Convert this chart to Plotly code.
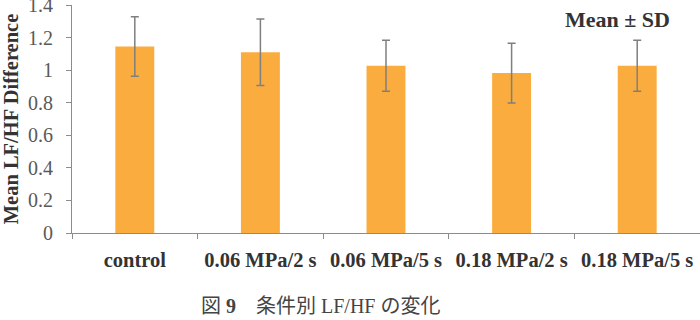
import plotly.graph_objects as go

categories = ["control", "0.06 MPa/2 s", "0.06 MPa/5 s", "0.18 MPa/2 s", "0.18 MPa/5 s"]
means = [1.145, 1.110, 1.027, 0.982, 1.027]
sds = [0.183, 0.204, 0.157, 0.183, 0.157]
y_ticks = [0, 0.2, 0.4, 0.6, 0.8, 1.0, 1.2, 1.4]
y_tick_labels = ["0", "0.2", "0.4", "0.6", "0.8", "1", "1.2", "1.4"]

SERIF = "Liberation Serif, Times New Roman, serif"

fig = go.Figure(
    go.Bar(
        x=categories,
        y=means,
        marker=dict(color="#FBAC3E", line=dict(width=0)),
        error_y=dict(type="data", array=sds, visible=True,
                     color="#7F7F7F", thickness=1.5, width=4),
    )
)

fig.update_layout(
    width=700, height=320,
    margin=dict(l=72, r=0, t=5, b=87),
    paper_bgcolor="white", plot_bgcolor="white",
    bargap=0.69,
    showlegend=False,
    xaxis=dict(
        automargin=False,
        showline=True, linecolor="#8C8C8C", linewidth=1.2,
        ticks="outside", ticklen=5, tickcolor="#8C8C8C",
        tickson="boundaries",
        tickfont=dict(family=SERIF, size=20.5, color="#333333", weight="bold"),
        ticklabelstandoff=8,
    ),
    yaxis=dict(
        automargin=False,
        range=[0, 1.4000001],
        tickvals=y_ticks, ticktext=y_tick_labels,
        showline=True, linecolor="#8C8C8C", linewidth=1.2,
        ticks="outside", ticklen=5, tickcolor="#8C8C8C",
        showgrid=False, zeroline=False,
        tickfont=dict(family=SERIF, size=20, color="#595959"),
        ticklabelstandoff=9,
        ticklabeloverflow="allow",
        title=dict(text="<b>Mean LF/HF Difference</b>",
                   font=dict(family=SERIF, size=20.5, color="#333333"),
                   standoff=5),
    ),
    annotations=[
        dict(text="<b>Mean ± SD</b>", x=617, y=20, xref="paper", yref="paper",
             showarrow=False, font=dict(family=SERIF, size=22, color="#333333")),
        dict(text="図 <b>9</b>　条件別 LF/HF の変化", x=320, y=306,
             xref="paper", yref="paper", showarrow=False,
             font=dict(family="Liberation Serif, Noto Sans CJK JP", size=20, color="#444444")),
    ],
)

# convert pixel positions of annotations to paper coordinates
pw = 700 - 72 - 0
ph = 320 - 5 - 87
for a in fig.layout.annotations:
    px, py = a.x, a.y
    a.x = (px - 72) / pw
    a.y = (320 - 87 - py) / ph
    a.xanchor = "center"
    a.yanchor = "middle"

fig.write_html("out.html")
